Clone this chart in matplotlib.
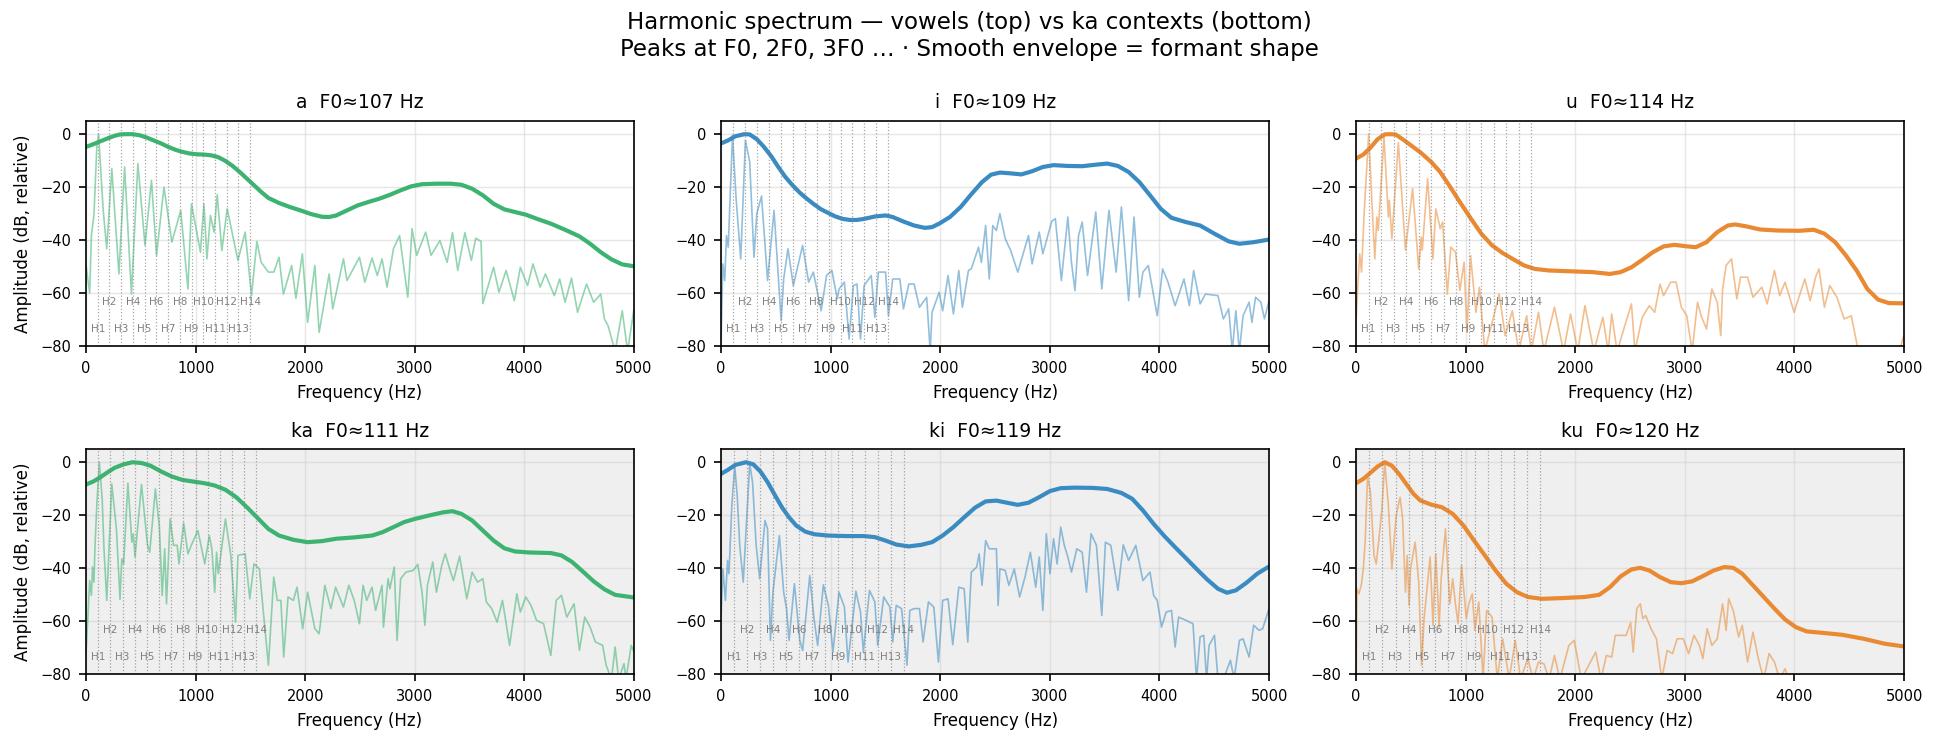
import matplotlib
matplotlib.use("Agg")
import matplotlib.pyplot as plt

# ---- data ----
names = ["a", "i", "u", "ka", "ki", "ku"]
f0s = [107, 109, 114, 111, 119, 120]
colors = ["#3cb371", "#3a8bc2", "#e98a33", "#3cb371", "#3a8bc2", "#e98a33"]

# smooth envelopes (Hz, dB)
a_env = [(0, -4.8), (65, -3.8), (130, -2.7), (196, -1.6), (261, -0.6), (310, -0.1), (359, 0),
         (424, 0), (489, -0.4), (555, -1.3), (620, -2.4), (685, -3.5), (750, -4.8), (816, -5.9),
         (881, -6.7), (946, -7.3), (1011, -7.6), (1076, -7.7), (1142, -8), (1207, -8.7),
         (1272, -10.1), (1337, -12), (1403, -14.3), (1468, -16.8), (1533, -19.3), (1598, -21.8),
         (1664, -24.1), (1761, -26), (1859, -27.5), (1957, -28.8), (2055, -30.2), (2153, -31.2),
         (2218, -31.3), (2283, -30.7), (2381, -28.8), (2479, -26.9), (2577, -25.6), (2675, -24.4),
         (2773, -22.9), (2871, -21.2), (2968, -19.7), (3066, -18.9), (3197, -18.7), (3327, -18.7),
         (3425, -19.1), (3523, -20.6), (3621, -23.1), (3719, -26.3), (3817, -28.4), (3914, -29.4),
         (4012, -30.4), (4110, -31.9), (4241, -33.8), (4371, -36.1), (4502, -38.6), (4600, -41.4),
         (4697, -44.6), (4795, -47.3), (4893, -49.2), (5000, -49.9)]
i_env = [(0, -3.5), (65, -2.3), (130, -0.8), (212, 0), (261, -0.1), (326, -1.9), (391, -4.8),
         (457, -8.3), (522, -12.4), (587, -16.2), (652, -19.3), (718, -22.1), (783, -24.4),
         (848, -26.5), (913, -28.4), (979, -29.8), (1044, -31.1), (1109, -32), (1174, -32.4),
         (1240, -32.4), (1305, -32), (1403, -31.1), (1501, -30.7), (1566, -31.3), (1664, -33),
         (1761, -34.5), (1859, -35.4), (1925, -35.1), (1990, -33.8), (2088, -31.3), (2186, -27.5),
         (2283, -22.7), (2381, -18.1), (2463, -15.3), (2544, -14.5), (2642, -14.8), (2740, -15.2),
         (2838, -14), (2936, -12.4), (3034, -11.7), (3164, -12), (3295, -12.1), (3425, -11.5),
         (3523, -11.1), (3621, -12), (3719, -14.3), (3817, -18.1), (3914, -23.1), (4012, -28.2),
         (4110, -31.6), (4241, -33.2), (4371, -34.5), (4502, -37.6), (4632, -40.5), (4730, -41.4),
         (4860, -40.8), (5000, -39.8)]
u_env = [(0, -9.2), (65, -7.7), (130, -5.1), (196, -1.9), (261, -0.1), (294, 0), (359, -0.1),
         (424, -1.9), (506, -4.4), (587, -6.9), (685, -10.5), (767, -14.3), (848, -19.3),
         (946, -25.6), (1044, -31.7), (1142, -37.6), (1240, -42), (1337, -44.9), (1435, -47.3),
         (1533, -49.6), (1631, -50.9), (1761, -51.5), (1957, -51.8), (2153, -52.1), (2316, -52.8),
         (2414, -52.1), (2512, -50.3), (2610, -47.5), (2707, -44.6), (2805, -42.4), (2903, -41.8),
         (3001, -42.3), (3099, -42.7), (3197, -40.8), (3295, -37), (3392, -34.5), (3458, -34.1),
         (3556, -34.8), (3686, -36), (3849, -36.4), (4045, -36.5), (4175, -36.1), (4273, -37.6),
         (4371, -40.8), (4469, -45.8), (4567, -51.5), (4665, -58.5), (4763, -62.5), (4860, -63.8),
         (5000, -63.9)]
ka_env = [(0, -8.4), (65, -7.3), (130, -5.7), (196, -3.8), (261, -2.1), (343, -0.8), (424, 0),
          (506, -0.3), (587, -1.3), (685, -3.5), (783, -5.4), (881, -6.7), (979, -7.3), (1076, -7.9),
          (1174, -8.8), (1272, -10.4), (1370, -13.2), (1468, -17), (1566, -21.1), (1664, -25.2),
          (1761, -27.7), (1892, -29.3), (2022, -30.2), (2153, -29.8), (2283, -28.9), (2447, -28.4),
          (2610, -27.7), (2707, -26.4), (2805, -24.5), (2903, -22.6), (3001, -21.4), (3132, -20.1),
          (3262, -18.9), (3344, -18.5), (3425, -19.5), (3523, -22), (3621, -25.8), (3719, -29.6),
          (3817, -32.5), (3914, -33.7), (4045, -34.1), (4241, -34.3), (4338, -35.2), (4436, -37.7),
          (4534, -41.3), (4632, -45), (4730, -48), (4828, -50.1), (5000, -51.1)]
ki_env = [(0, -4.4), (65, -2.8), (130, -1), (228, 0), (294, -0.8), (359, -3.5), (424, -7.5),
          (489, -12.3), (555, -17), (620, -20.8), (685, -23.9), (767, -26.2), (848, -27.2),
          (979, -27.7), (1142, -27.9), (1305, -27.9), (1403, -28.3), (1501, -29.6), (1598, -31.1),
          (1713, -31.8), (1827, -31.2), (1925, -30.2), (2022, -27.7), (2120, -24.5), (2218, -20.8),
          (2316, -17.2), (2414, -14.8), (2512, -14.5), (2610, -15.3), (2707, -16.1), (2805, -15.3),
          (2903, -13.2), (3001, -10.9), (3099, -9.8), (3229, -9.6), (3392, -9.7), (3523, -10.1),
          (3653, -11.6), (3751, -13.8), (3849, -18.2), (3947, -23.3), (4045, -27.9), (4143, -32.1),
          (4241, -36.2), (4338, -40.3), (4436, -44.3), (4534, -47.8), (4616, -49.3), (4697, -48.4),
          (4795, -45.5), (4893, -42.1), (5000, -39.4)]
ku_env = [(0, -7.9), (65, -6.3), (130, -4), (196, -1.6), (261, 0), (326, -1.3), (391, -4.4),
          (457, -8.2), (522, -11.9), (587, -14.5), (685, -16), (783, -17), (881, -19.5), (979, -23.9),
          (1076, -29.6), (1174, -35.2), (1272, -40.9), (1370, -45.9), (1468, -49.1), (1566, -50.9),
          (1696, -51.6), (1892, -51.3), (2088, -50.9), (2218, -50.1), (2316, -47.2), (2414, -43.1),
          (2512, -40.5), (2593, -39.9), (2675, -40.9), (2773, -43.4), (2871, -45.3), (2968, -45.7),
          (3066, -45), (3164, -43), (3262, -40.9), (3360, -39.6), (3441, -39.9), (3523, -42.1),
          (3621, -46.5), (3719, -50.9), (3817, -55.3), (3914, -59.4), (4012, -62.3), (4110, -63.9),
          (4241, -64.4), (4436, -65.2), (4632, -66.7), (4828, -68.6), (5000, -69.6)]

# harmonic spectra (Hz, dB), peaks and dips
a_spec = [(0, -49.6), (33, -60), (49, -38), (72, -30.7), (98, -5), (114, 0), (157, -29), (189, -43.3),
          (235, -13), (300, -52.8), (352, -12.4), (414, -60.4), (473, -11.1), (538, -42), (597, -17.4),
          (643, -45.8), (711, -20), (783, -40.8), (864, -28.8), (930, -58.5), (962, -26.3), (1044, -44.6),
          (1076, -26.3), (1103, -47.1), (1135, -30.7), (1168, -37), (1197, -22.9), (1239, -44),
          (1288, -28.2), (1386, -47.7), (1452, -37), (1510, -61), (1559, -40.5), (1598, -48.4),
          (1664, -52.1), (1713, -52.1), (1761, -46.5), (1801, -60.4), (1876, -49.6), (1915, -62),
          (1974, -45.2), (2022, -71.1), (2088, -49.6), (2127, -74.9), (2218, -52.8), (2251, -66),
          (2349, -47.1), (2381, -55.3), (2495, -46.5), (2544, -55.9), (2610, -46.8), (2658, -53.4),
          (2701, -47.1), (2747, -57.8), (2805, -43.3), (2861, -38.3), (2936, -61.6), (2975, -35.7),
          (3017, -45.8), (3099, -37), (3148, -45.8), (3229, -40.2), (3295, -48.4), (3344, -37.2),
          (3392, -51.5), (3457, -37.2), (3516, -47.7), (3556, -39.3), (3605, -40.5), (3621, -64),
          (3719, -50.3), (3768, -59.7), (3833, -51.5), (3908, -62.9), (3963, -50.3), (4029, -57.2),
          (4078, -49), (4143, -57.8), (4192, -52.8), (4273, -61), (4322, -54.7), (4371, -63.5),
          (4430, -54.4), (4485, -67.3), (4567, -56.6), (4632, -63.5), (4697, -60.4), (4730, -69.8),
          (4763, -72.3), (4828, -82), (4893, -66.7), (4942, -82), (5000, -66)]
i_spec = [(0, -76.8), (16, -49), (33, -55.3), (49, -38.3), (65, -42.7), (104, -0.4), (137, -24.4),
          (179, -47.1), (222, -2.3), (261, -10.5), (300, -46.5), (326, -30), (369, -23.4), (424, -55.3),
          (483, -28.8), (548, -70.5), (571, -54.7), (610, -43.3), (659, -57.2), (744, -42), (799, -55.9),
          (842, -52.1), (913, -66.7), (962, -53.4), (1011, -51.5), (1060, -62.2), (1076, -58.5),
          (1125, -55.9), (1168, -77.4), (1207, -57.2), (1240, -56.6), (1272, -77.4), (1305, -57.2),
          (1370, -53.4), (1403, -69.2), (1435, -52.1), (1501, -52.1), (1527, -68.6), (1566, -54.7),
          (1631, -54.7), (1664, -66), (1713, -56.6), (1761, -56.6), (1810, -65.4), (1876, -61.6),
          (1908, -82), (1925, -67.3), (1990, -59.7), (2022, -66.7), (2071, -53.4), (2120, -67.9),
          (2169, -51.5), (2202, -65.4), (2257, -51.5), (2283, -50.9), (2349, -42.7), (2375, -48.4),
          (2414, -34.5), (2447, -54.7), (2479, -34.5), (2512, -36.4), (2544, -30), (2593, -39.5),
          (2642, -43.9), (2707, -52.1), (2805, -38.3), (2838, -49), (2903, -37), (2936, -45.2),
          (3017, -32.9), (3050, -31.9), (3105, -55.3), (3164, -31.3), (3197, -48.4), (3229, -59.1),
          (3262, -38.3), (3295, -33.2), (3344, -53.4), (3419, -29.4), (3474, -58.5), (3539, -28.8),
          (3605, -52.1), (3653, -27.5), (3719, -62.9), (3768, -31.3), (3817, -61.6), (3849, -52.1),
          (3898, -49.6), (3980, -68.6), (4029, -50.9), (4078, -55.9), (4143, -64.8), (4224, -54.7),
          (4273, -64.8), (4312, -51.5), (4371, -64.1), (4420, -60.4), (4534, -61), (4583, -69.8),
          (4632, -66), (4665, -82), (4697, -66.7), (4730, -82), (4763, -68.6), (4818, -63.5),
          (4844, -71.1), (4877, -61.6), (4926, -63.5), (4958, -69.8), (5000, -62.9)]
u_spec = [(0, -69.2), (16, -56.6), (33, -45.2), (49, -52.1), (72, -30.7), (114, 0), (147, -28.2),
          (170, -47.1), (189, -31.3), (202, -36.4), (254, -1), (294, -31.3), (303, -25), (326, -39.5),
          (385, -3.2), (450, -43.9), (515, -20.6), (571, -50.9), (594, -38.9), (603, -43.9), (652, -16.8),
          (701, -47.1), (727, -28.2), (767, -35.7), (789, -33.2), (832, -60.4), (864, -42.7), (907, -44.6),
          (946, -59.1), (985, -48.4), (1011, -74.9), (1044, -45.8), (1093, -67.3), (1125, -57.8),
          (1174, -82), (1256, -68.6), (1305, -60.4), (1360, -76.1), (1425, -66.7), (1484, -82),
          (1556, -68.6), (1598, -82), (1664, -67.3), (1713, -82), (1810, -65.4), (1892, -82),
          (1957, -67.9), (2022, -82), (2088, -64.8), (2169, -82), (2251, -69.2), (2300, -82),
          (2332, -67.9), (2381, -82), (2512, -64.1), (2544, -82), (2610, -69.2), (2675, -64.8),
          (2724, -67.3), (2773, -56.6), (2805, -61), (2871, -55.9), (2919, -55.9), (2968, -65.4),
          (3017, -68.6), (3066, -82), (3115, -63.5), (3148, -68.6), (3197, -73.6), (3246, -58.5),
          (3295, -63.5), (3327, -76.1), (3344, -58.5), (3376, -49.6), (3425, -47.1), (3474, -62.2),
          (3507, -54), (3572, -54), (3621, -61.6), (3702, -57.8), (3751, -64.1), (3817, -51.5),
          (3865, -61), (3914, -55.9), (3996, -67.3), (4094, -54.7), (4143, -62.9), (4192, -54),
          (4224, -50.9), (4273, -65.4), (4322, -57.2), (4387, -61.6), (4453, -69.8), (4518, -68.6),
          (4583, -82), (4958, -82), (4990, -77), (5000, -76)]
ka_spec = [(0, -71.7), (16, -59.1), (33, -44.7), (49, -50.3), (59, -39.6), (72, -45.3), (82, -31.4),
           (98, -16.4), (121, 0), (147, -13.8), (163, -32.1), (189, -52.2), (235, -8.2), (277, -25.2),
           (310, -51.8), (326, -36.5), (343, -38.4), (382, -7.9), (418, -30.2), (431, -27), (447, -35.8),
           (506, -8.4), (561, -31.4), (581, -34), (633, -10.1), (669, -24.5), (695, -50.3), (718, -32.7),
           (734, -53.5), (767, -21.4), (799, -31.4), (832, -31.4), (848, -38.4), (891, -23), (930, -34.6),
           (962, -31.2), (1021, -25.8), (1083, -38.4), (1125, -27.7), (1148, -32.7), (1174, -49.1),
           (1191, -34), (1207, -42.1), (1272, -21.4), (1321, -35.2), (1364, -60.4), (1386, -35.2),
           (1452, -34.6), (1494, -51.6), (1533, -38.4), (1582, -40.3), (1615, -55.3), (1664, -76.7),
           (1713, -43.4), (1745, -52.2), (1778, -52.2), (1804, -73.6), (1843, -50.9), (1892, -52.2),
           (1925, -47.2), (1977, -62.9), (2022, -49.1), (2088, -62.9), (2127, -64.8), (2179, -46.5),
           (2234, -55.3), (2277, -47.2), (2349, -54.7), (2398, -46.5), (2447, -52.2), (2495, -61),
           (2528, -46.5), (2561, -52.2), (2610, -47.2), (2642, -56), (2701, -46.5), (2714, -62.3),
           (2756, -44), (2773, -47.8), (2812, -39.6), (2838, -67.3), (2871, -44), (2919, -41.5),
           (2985, -40.9), (3027, -38.6), (3066, -49.1), (3092, -61.6), (3115, -46.5), (3164, -37.7),
           (3197, -49.1), (3246, -39), (3278, -34.6), (3327, -41.5), (3353, -44.7), (3409, -35.5),
           (3474, -51.6), (3523, -41.5), (3572, -45.3), (3621, -44), (3653, -52.8), (3702, -55.3),
           (3751, -60.4), (3800, -52.2), (3865, -69.2), (3931, -49.7), (3963, -56.6), (4012, -50.9),
           (4061, -54.1), (4110, -59.7), (4175, -61), (4241, -73), (4290, -52.2), (4338, -50.3),
           (4387, -58.5), (4453, -53.5), (4502, -71.1), (4551, -58.5), (4600, -62.3), (4648, -67.9),
           (4714, -69.2), (4746, -76.7), (4795, -82), (4828, -69.8), (4860, -82), (4909, -76.1),
           (4926, -82), (4975, -69.2), (5000, -71.7)]
ki_spec = [(0, -57.9), (16, -40.3), (39, -52.2), (59, -37.1), (72, -42.1), (98, -16.4), (124, -1.3),
           (147, -12.6), (170, -31.4), (202, -45.3), (261, -0.6), (287, -7.5), (320, -31.4), (352, -44),
           (401, -22), (424, -25.2), (450, -67.3), (473, -49.1), (532, -27.7), (571, -49.1), (597, -55.3),
           (620, -67.3), (669, -45.9), (718, -67.3), (744, -71.1), (809, -42.8), (848, -59.1),
           (881, -69.2), (933, -46.3), (979, -54.1), (1021, -71.7), (1076, -49.1), (1125, -54.7),
           (1158, -75.5), (1230, -48.7), (1272, -56.6), (1298, -71.7), (1354, -48.4), (1403, -52.8),
           (1429, -69.2), (1484, -50.9), (1540, -54.7), (1566, -67.9), (1598, -54.1), (1647, -55.3),
           (1696, -76.7), (1722, -56), (1761, -55.3), (1810, -55.3), (1843, -67.9), (1892, -52.8),
           (1941, -54.7), (1983, -75.5), (2022, -52.2), (2071, -51.6), (2114, -68.9), (2169, -47.2),
           (2218, -47.8), (2251, -67.9), (2283, -41.5), (2332, -39.6), (2355, -34.6), (2381, -46.5),
           (2414, -29.6), (2447, -32.7), (2512, -32.7), (2528, -54.1), (2544, -40.3), (2593, -40.9),
           (2626, -46.5), (2675, -40.3), (2724, -50.9), (2773, -43.4), (2822, -34), (2871, -47.2),
           (2903, -35.8), (2936, -56), (2968, -27), (3001, -42.1), (3034, -28.9), (3066, -38.4),
           (3099, -24.5), (3132, -31.4), (3164, -35.8), (3197, -41.5), (3246, -32.7), (3295, -34),
           (3334, -49.1), (3376, -27), (3425, -31.4), (3474, -57.9), (3507, -30.2), (3556, -31.4),
           (3621, -48.4), (3670, -31.2), (3719, -37.1), (3784, -31.4), (3849, -44.7), (3914, -41.5),
           (3947, -50.3), (3980, -52.2), (4019, -62.3), (4061, -56.6), (4110, -56), (4143, -69.8),
           (4175, -58.5), (4241, -59.7), (4306, -61), (4338, -82), (4371, -66), (4404, -65.4),
           (4430, -82), (4453, -69.2), (4502, -65.4), (4534, -82), (4583, -82), (4648, -74.8),
           (4681, -82), (4730, -67.3), (4763, -66.7), (4818, -73.6), (4860, -61.6), (4909, -63.5),
           (4942, -62.9), (5000, -55.3)]
ku_spec = [(0, -82), (7, -47.8), (26, -49.7), (49, -45.9), (65, -40.3), (82, -30.2), (104, -5.3),
           (130, -11.3), (163, -35.2), (183, -38.4), (202, -31.4), (235, -17.6), (261, 0), (294, -16.4),
           (326, -40.3), (365, -20.1), (401, -13.2), (424, -21.4), (450, -49.1), (466, -35.2),
           (483, -54.1), (496, -40.3), (538, -30.2), (571, -45.3), (597, -76.7), (620, -59.1),
           (675, -35.8), (701, -61.6), (727, -34.6), (757, -62.3), (776, -44), (815, -25.2), (855, -53.5),
           (881, -44), (904, -52.8), (930, -61), (962, -39), (1005, -59.1), (1028, -53.5), (1060, -49.7),
           (1083, -63.5), (1119, -52.8), (1158, -82), (1191, -56), (1240, -58.5), (1288, -82),
           (1337, -66.7), (1396, -82), (1452, -67.3), (1501, -82), (1566, -74.2), (1615, -82),
           (1664, -75.5), (1713, -76.1), (1761, -82), (1810, -73), (1859, -82), (1941, -69.2),
           (1990, -67.3), (2055, -82), (2186, -71.7), (2234, -82), (2283, -73), (2332, -73.6),
           (2365, -65.4), (2414, -65.4), (2463, -65.4), (2505, -60.6), (2528, -71.7), (2561, -55.3),
           (2593, -53.5), (2616, -59.1), (2642, -57.9), (2691, -62.9), (2740, -66.7), (2789, -82),
           (2838, -71.1), (2887, -72.3), (2929, -66.7), (2985, -66.7), (3034, -72.3), (3083, -65.4),
           (3132, -69.2), (3164, -74.2), (3203, -62.9), (3246, -69.2), (3295, -66.7), (3344, -53.5),
           (3376, -63.5), (3399, -51.6), (3441, -56), (3490, -66), (3523, -61.6), (3572, -75.5),
           (3621, -64.2), (3670, -74.2), (3719, -82), (3768, -72.3), (3817, -75.5), (3865, -82),
           (3914, -78), (3947, -82), (5000, -82)]

envelopes = [a_env, i_env, u_env, ka_env, ki_env, ku_env]
spectra = [a_spec, i_spec, u_spec, ka_spec, ki_spec, ku_spec]
n_harm = 14

fig, axes = plt.subplots(2, 3, figsize=(12.92, 4.967), dpi=150)
fig.subplots_adjust(left=0.0444, right=0.9825, bottom=0.0953, top=0.8376,
                    wspace=0.159, hspace=0.458)

for k, ax in enumerate(axes.flat):
    row = k // 3
    if row == 1:
        ax.set_facecolor("#efefef")
    sf, sdb = zip(*spectra[k])
    ef, edb = zip(*envelopes[k])
    ax.plot(sf, sdb, color=colors[k], lw=0.8, alpha=0.55)
    ax.plot(ef, edb, color=colors[k], lw=2, solid_joinstyle="round")

    # harmonic markers
    for h in range(1, n_harm + 1):
        fh = h * f0s[k]
        ax.axvline(fh, color="gray", ls=":", lw=0.6, alpha=0.7)
        yl = -63.5 if h % 2 == 0 else -73.5
        ax.text(fh, yl, f"H{h}", fontsize=5, color="gray", ha="center", va="center")

    ax.set_xlim(0, 5000)
    ax.set_ylim(-80, 5)
    ax.set_xticks([0, 1000, 2000, 3000, 4000, 5000])
    ax.set_yticks([0, -20, -40, -60, -80])
    ax.tick_params(labelsize=7)
    ax.grid(True, color="#d0d0d0", alpha=0.5, lw=0.7)
    ax.set_title(f"{names[k]}  F0\u2248{f0s[k]} Hz", fontsize=9)
    ax.set_xlabel("Frequency (Hz)", fontsize=8)
    if k % 3 == 0:
        ax.set_ylabel("Amplitude (dB, relative)", fontsize=8)

fig.suptitle("Harmonic spectrum \u2014 vowels (top) vs ka contexts (bottom)\n"
             "Peaks at F0, 2F0, 3F0 \u2026 \u00b7 Smooth envelope = formant shape",
             fontsize=11, y=0.985, va="top")

fig.savefig("out.png", dpi=150)
